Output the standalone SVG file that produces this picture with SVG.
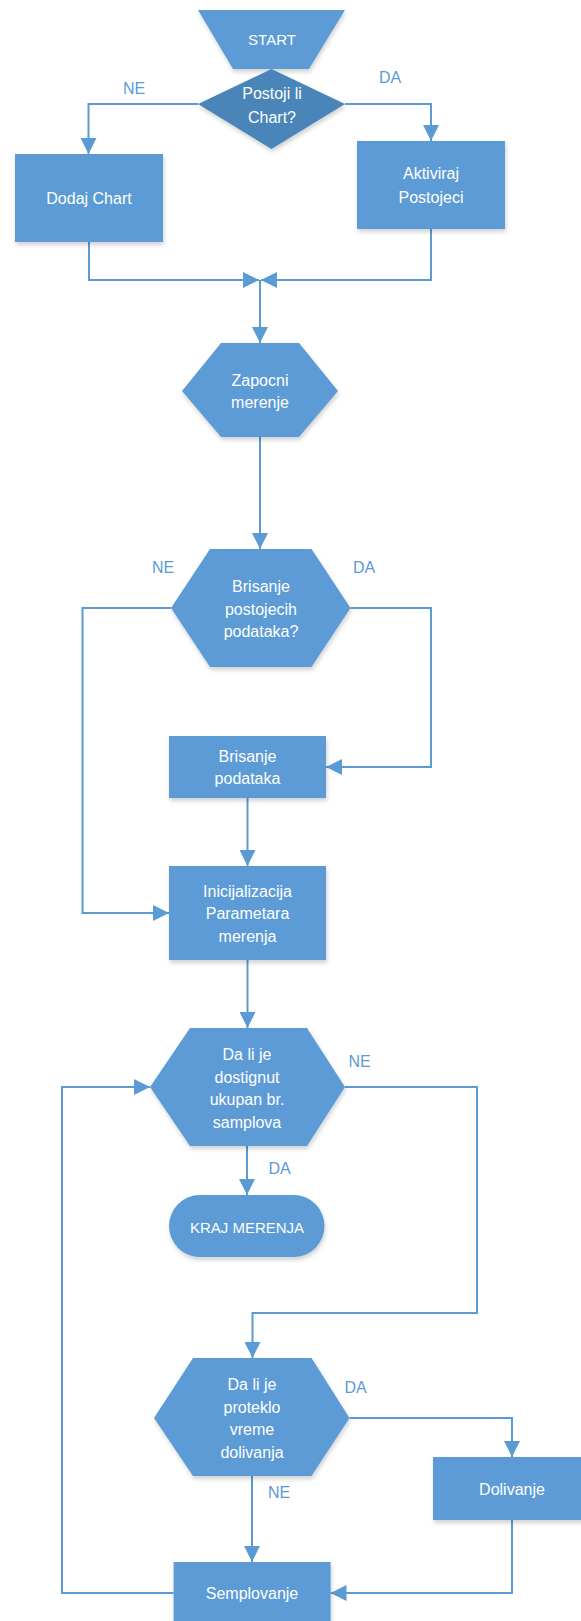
<svg xmlns="http://www.w3.org/2000/svg" width="581" height="1621" viewBox="0 0 581 1621">
<style>
.n{fill:#5b9bd5;filter:url(#sh)}
.d{fill:#4a85b9;filter:url(#sh)}
.t{font-family:"Liberation Sans",Arial,sans-serif;font-size:16px;fill:#ffffff;text-anchor:middle}
.c{font-size:15px}
.l{font-family:"Liberation Sans",Arial,sans-serif;font-size:16px;fill:#5b9bd5;text-anchor:middle}
.e{fill:none;stroke:#5b9bd5;stroke-width:2}
.a{marker-end:url(#arr)}
</style>
<defs>
<filter id="sh" x="-10%" y="-10%" width="130%" height="140%">
<feDropShadow dx="1" dy="3" stdDeviation="2" flood-color="#000" flood-opacity="0.18"/>
</filter>
<marker id="arr" viewBox="0 0 16 16" refX="16" refY="8" markerWidth="16" markerHeight="16" orient="auto" markerUnits="userSpaceOnUse">
<path d="M0,0 L16,8 L0,16 z" fill="#5b9bd5"/>
</marker>
</defs>
<rect width="581" height="1621" fill="#ffffff"/>

<g id="connectors">
<path class="e a" d="M198,104 H88.5 V154"/>
<path class="e a" d="M345,104 H431 V141"/>
<path class="e a" d="M89,242 V280 H259"/>
<path class="e a" d="M431,229 V280 H261"/>
<path class="e a" d="M260,280 V343"/>
<path class="e a" d="M260,437 V549"/>
<path class="e a" d="M171,608 H82.5 V913 H169"/>
<path class="e a" d="M350.5,608 H431 V767 H326"/>
<path class="e a" d="M247.5,798 V866"/>
<path class="e a" d="M247.5,960 V1028"/>
<path class="e a" d="M247,1146 V1195"/>
<path class="e a" d="M345,1087 H477 V1313 H252.5 V1358"/>
<path class="e a" d="M349.5,1418 H512 V1457"/>
<path class="e a" d="M252,1476 V1562"/>
<path class="e a" d="M512,1520 V1593 H330.5"/>
<path class="e a" d="M173.6,1593 H62 V1087 H150"/>
</g>

<g id="labels">
<text class="l" x="134" y="94">NE</text>
<text class="l" x="390" y="83">DA</text>
<text class="l" x="163" y="573">NE</text>
<text class="l" x="364" y="573">DA</text>
<text class="l" x="359.5" y="1067">NE</text>
<text class="l" x="279.5" y="1174">DA</text>
<text class="l" x="355.5" y="1393">DA</text>
<text class="l" x="279" y="1498">NE</text>
</g>

<g id="start">
<polygon class="n" points="198,10 345,10 309,69 233,69"/>
<text class="t c" x="272" y="44.5">START</text>
</g>

<g id="postoji">
<polygon class="d" points="271.5,69 345,104 271.5,149 198,104"/>
<text class="t" x="272" y="98.5">Postoji li</text>
<text class="t" x="272" y="122.5">Chart?</text>
</g>

<g id="dodaj">
<rect class="n" x="15" y="154" width="148" height="88"/>
<text class="t" x="89" y="203.5">Dodaj Chart</text>
</g>

<g id="aktiviraj">
<rect class="n" x="357" y="141" width="148" height="88"/>
<text class="t" x="431" y="178.5">Aktiviraj</text>
<text class="t" x="431" y="202.5">Postojeci</text>
</g>

<g id="zapocni">
<polygon class="n" points="221,343 299,343 338,391 299,437 221,437 182,391"/>
<text class="t" x="260" y="385.5">Zapocni</text>
<text class="t" x="260" y="407.5">merenje</text>
</g>

<g id="brisanje-upit">
<polygon class="n" points="210,549 311.5,549 350.5,608 311.5,667 210,667 171,608"/>
<text class="t" x="261" y="591.5">Brisanje</text>
<text class="t" x="261" y="614.5">postojecih</text>
<text class="t" x="261" y="636.5">podataka?</text>
</g>

<g id="brisanje-podataka">
<rect class="n" x="169" y="736" width="157" height="62"/>
<text class="t" x="247.5" y="761.5">Brisanje</text>
<text class="t" x="247.5" y="783.5">podataka</text>
</g>

<g id="inicijalizacija">
<rect class="n" x="169" y="866" width="157" height="94"/>
<text class="t" x="247.5" y="896.5">Inicijalizacija</text>
<text class="t" x="247.5" y="918.5">Parametara</text>
<text class="t" x="247.5" y="941.5">merenja</text>
</g>

<g id="dostignut">
<polygon class="n" points="190,1028 307,1028 345,1087 307,1146 190,1146 150,1087"/>
<text class="t" x="247" y="1059.5">Da li je</text>
<text class="t" x="247" y="1082.5">dostignut</text>
<text class="t" x="247" y="1104.5">ukupan br.</text>
<text class="t" x="247" y="1127.5">samplova</text>
</g>

<g id="kraj">
<rect class="n" x="169" y="1195" width="155.5" height="62" rx="31" ry="31"/>
<text class="t c" x="247" y="1232.5">KRAJ MERENJA</text>
</g>

<g id="proteklo">
<polygon class="n" points="193,1358 311.5,1358 349.5,1418 311.5,1476 193,1476 154,1418"/>
<text class="t" x="252" y="1389.5">Da li je</text>
<text class="t" x="252" y="1412.5">proteklo</text>
<text class="t" x="252" y="1434.5">vreme</text>
<text class="t" x="252" y="1457.5">dolivanja</text>
</g>

<g id="dolivanje">
<rect class="n" x="433" y="1457" width="158" height="63"/>
<text class="t" x="512" y="1494.5">Dolivanje</text>
</g>

<g id="semplovanje">
<rect class="n" x="173.6" y="1562" width="157" height="70"/>
<text class="t" x="252" y="1598.5">Semplovanje</text>
</g>
</svg>
